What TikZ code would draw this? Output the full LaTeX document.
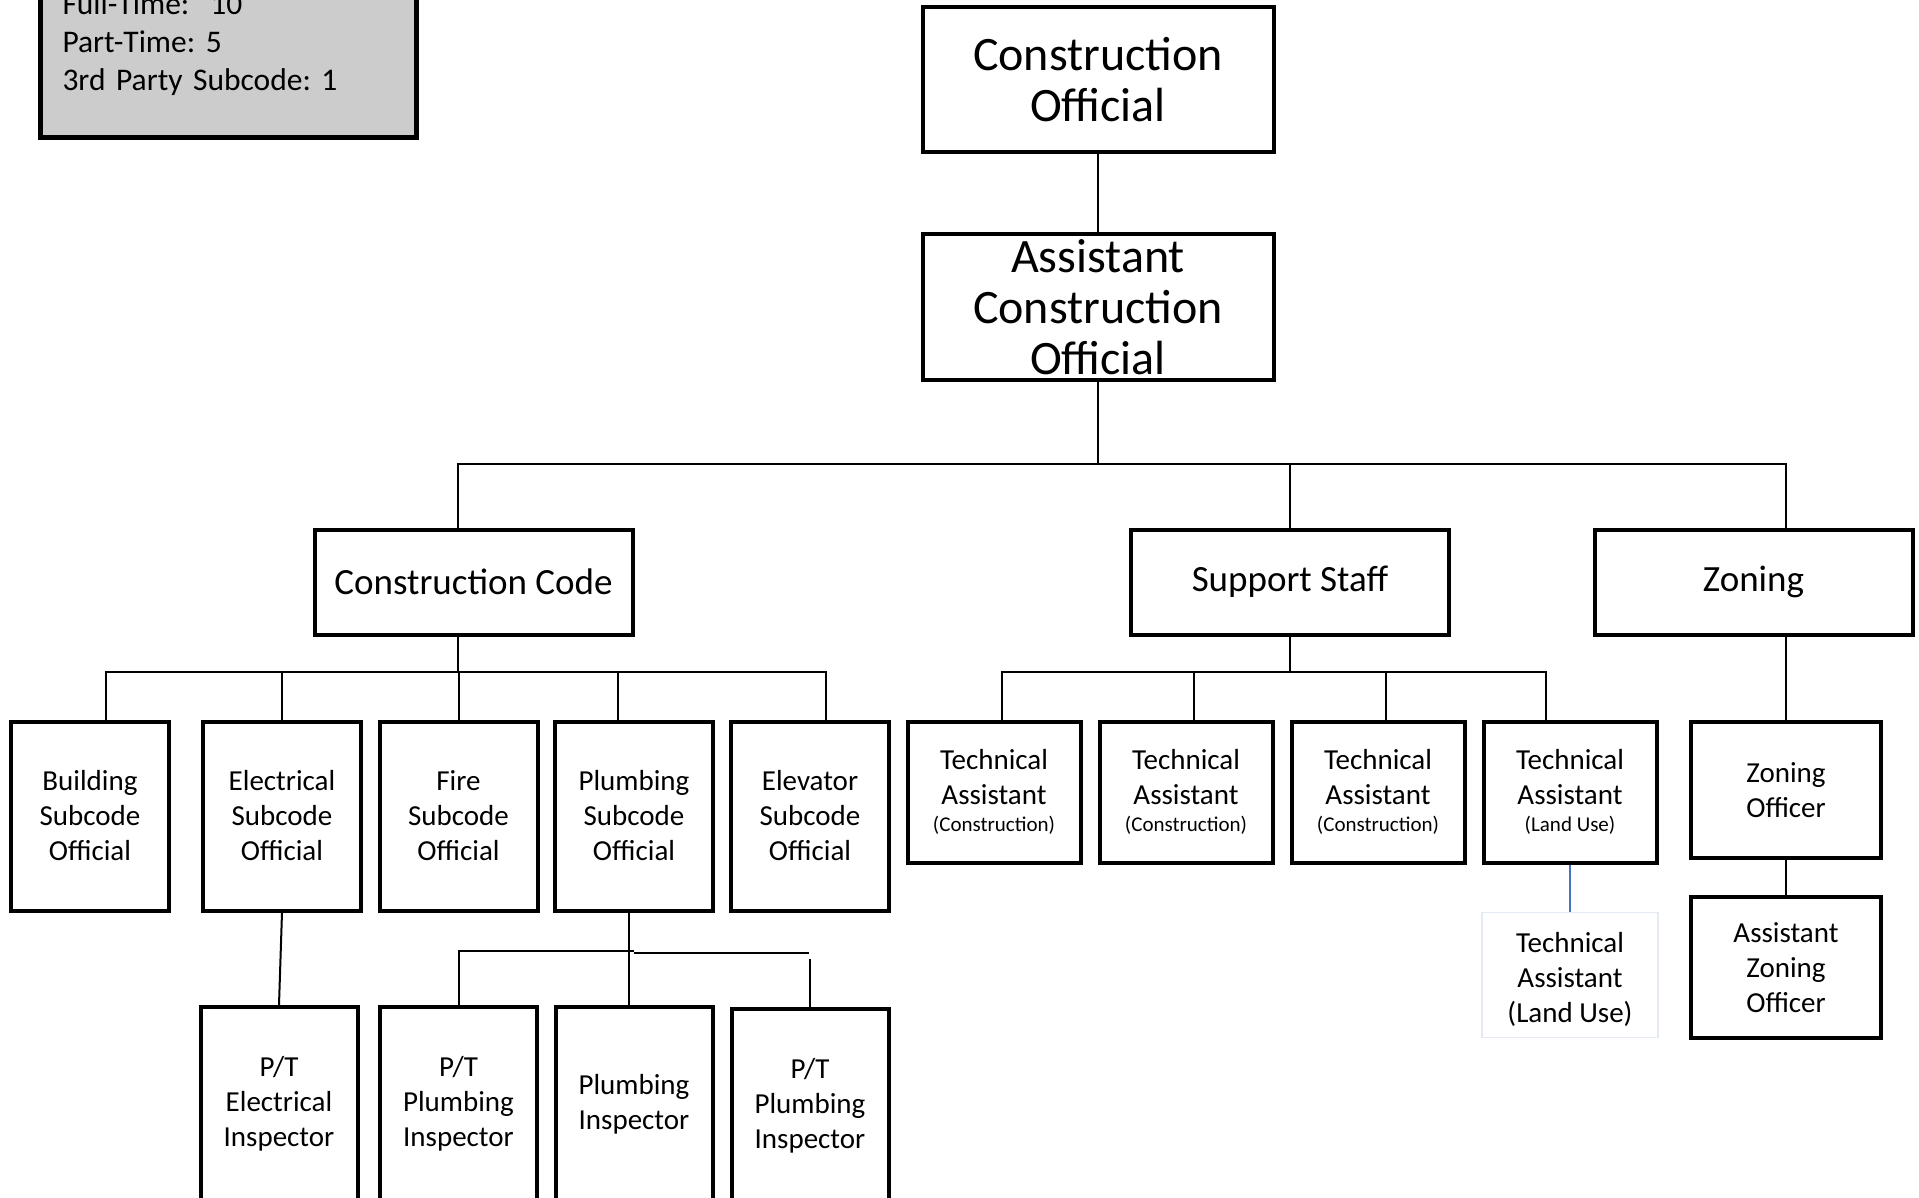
\documentclass[tikz,border=0pt]{standalone}
\usepackage{fontspec}
\setmainfont{Carlito}
\usepackage{xcolor}
\usetikzlibrary{positioning}

\definecolor{linkblue}{HTML}{4472C4}
\definecolor{paleedge}{HTML}{E4EAF3}
\newcommand{\subnote}[1]{{\fontsize{21}{25}\selectfont #1}}
\frenchspacing

\begin{document}
\begin{tikzpicture}[x=1pt, y=1pt,
    box/.style={draw, line width=4pt, align=center, inner sep=0pt},
    big/.style={font=\fontsize{48}{51}\selectfont},
    mid/.style={font=\fontsize{37}{44}\selectfont},
    small/.style={font=\fontsize{29}{35}\selectfont},
    head/.style={box, mid, minimum width=318pt, minimum height=105pt},
    sub/.style={box, small, minimum width=158pt, minimum height=189pt},
    insp/.style={box, small, minimum width=157pt, minimum height=194pt},
    tech/.style={box, small, minimum width=173pt, minimum height=141pt},
    link/.style={line width=2pt}]
    \useasboundingbox (0,0) rectangle (1919,-1198);

    % Nodes
    \node[draw, line width=5pt, fill=black!20, font=\fontsize{31.5}{38}\selectfont, align=left, text width=332pt, inner xsep=22pt, inner ysep=42pt, anchor=south west] (stats) at (38,-140) {Full-Time:\ \ 10\\Part-Time: 5\\3rd Party Subcode: 1};

    \node[box, big, minimum width=351pt, minimum height=145pt] (top) at (1098,-80) {Construction\\Official};
    \node[box, big, minimum width=351pt, minimum height=145pt, below=78pt of top] (asst) {Assistant\\Construction\\Official};

    \node[head] (cc) at (473.5,-582) {Construction Code};
    \node[head] (staff) at (1290,-582) {Support Staff};
    \node[head] (zoning) at (1753.5,-582) {Zoning};

    \node[sub] (bso) at (90,-816) {Building\\Subcode\\Official};
    \node[sub] (eso) at (282,-816) {Electrical\\Subcode\\Official};
    \node[sub] (fso) at (458.5,-816) {Fire\\Subcode\\Official};
    \node[sub] (pso) at (634,-816) {Plumbing\\Subcode\\Official};
    \node[sub] (elso) at (810,-816) {Elevator\\Subcode\\Official};

    \node[insp] (pte) at (279,-1104) {P/T\\Electrical\\Inspector};
    \node[insp] (ptp1) at (458.5,-1104) {P/T\\Plumbing\\Inspector};
    \node[insp] (pi) at (634,-1104) {Plumbing\\Inspector};
    \node[insp] (ptp2) at (810,-1106) {P/T\\Plumbing\\Inspector};

    \node[tech] (ta1) at (994,-792) {Technical\\Assistant\\[-8pt]\subnote{(Construction)}};
    \node[tech] (ta2) at (1186,-792) {Technical\\Assistant\\[-8pt]\subnote{(Construction)}};
    \node[tech] (ta3) at (1378,-792) {Technical\\Assistant\\[-8pt]\subnote{(Construction)}};
    \node[tech] (ta4) at (1570,-792) {Technical\\Assistant\\[-8pt]\subnote{(Land Use)}};
    \node[draw=paleedge, line width=1.5pt, small, align=center, inner sep=0pt, minimum width=176pt, minimum height=125pt, below=47pt of ta4] (talu) {\\[-6pt]Technical\\Assistant\\(Land Use)};

    \node[box, small, minimum width=190pt, minimum height=136pt] (zo) at (1786,-790) {Zoning\\Officer};
    \node[box, small, minimum width=190pt, minimum height=141pt, below=35pt of zo] (azo) {Assistant\\Zoning\\Officer};

    % Lines
    \draw[link] (top) -- (asst);
    \draw[link] (asst.south) -- ++(0,-82);
    \draw[link] ([xshift=-15.5pt]cc.north) -- ++(0,64) -| ([xshift=32.5pt]zoning.north);
    \draw[link] (staff.north) -- ++(0,64);

    \draw[link] ([xshift=-15.5pt]cc.south) -- ++(0,-36);
    \draw[link] ([xshift=16pt]bso.north) -- ++(0,48) -| ([xshift=16pt]elso.north);
    \draw[link] (eso.north) -- ++(0,48);
    \draw[link] (fso.north) -- ++(0,48);
    \draw[link] ([xshift=-16pt]pso.north) -- ++(0,48);

    \draw[link] (eso.south) -- (pte.north);
    \draw[link] ([xshift=-5pt]pso.south) -- ([xshift=-5pt]pi.north);
    \draw[link] (ptp1.north) -- ++(0,54) -- ++(175,0);
    \draw[link] ([yshift=-40pt]pso.south) -- ++(175,0);
    \draw[link] (ptp2.north) -- ++(0,48);

    \draw[link] (staff.south) -- ++(0,-36);
    \draw[link] ([xshift=8pt]ta1.north) -- ++(0,48) -| ([xshift=-24pt]ta4.north);
    \draw[link] ([xshift=8pt]ta2.north) -- ++(0,48);
    \draw[link] ([xshift=8pt]ta3.north) -- ++(0,48);
    \draw[linkblue, line width=1.5pt] (ta4) -- (talu);

    \draw[link] ([xshift=32.5pt]zoning.south) -- (zo.north);
    \draw[link] (zo) -- (azo);
\end{tikzpicture}
\end{document}
